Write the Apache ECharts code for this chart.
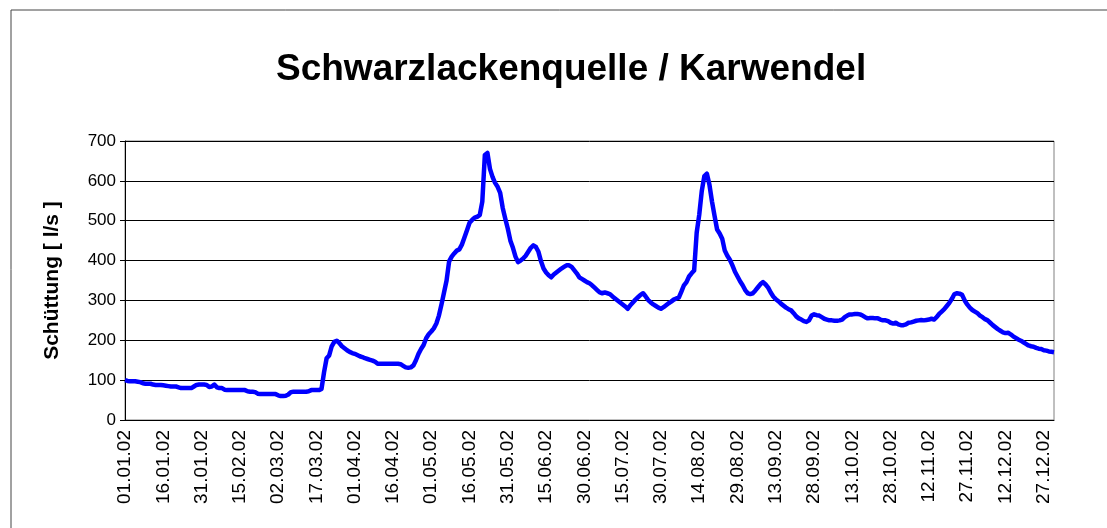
<!DOCTYPE html>
<html>
<head>
<meta charset="utf-8">
<script src="https://cdn.jsdelivr.net/npm/echarts@6/dist/echarts.min.js"></script>
<style>
html,body{margin:0;padding:0;background:#fff;}
#chart{width:1107px;height:528px;}
</style>
</head>
<body>
<div id="chart"></div>
<script>
// Daily discharge values (l/s), 01.01.2002 .. 31.12.2002
const flow = [
100,98,97,97,97,96,95,92,91,91,
91,89,88,88,88,87,86,85,84,84,
84,82,80,80,80,80,80,84,88,89,
89,89,88,83,84,89,82,80,80,76,
75,75,75,75,75,75,75,75,72,71,
71,70,66,65,65,65,65,65,65,65,
62,60,60,61,64,70,71,71,71,71,
71,71,72,75,75,75,75,78,120,155,
162,185,196,199,193,185,180,175,171,168,
166,163,160,158,155,153,151,149,146,141,
141,141,141,141,141,141,141,141,140,136,
132,131,132,137,150,166,178,188,205,215,
222,230,242,262,290,320,350,398,410,418,
425,428,440,458,476,495,502,508,510,514,
548,665,670,630,610,595,585,570,532,505,
480,450,432,410,396,400,405,412,422,432,
438,434,422,398,380,370,363,358,365,370,
375,380,384,388,388,384,376,368,358,354,
350,346,343,338,332,326,320,318,320,318,
316,310,305,300,295,290,285,279,288,295,
302,308,314,318,310,301,295,290,286,282,
279,283,288,293,297,302,305,307,322,338,
346,360,368,375,470,515,575,612,618,590,
548,512,478,468,455,425,412,402,388,372,
360,348,338,326,318,316,318,325,333,341,
346,340,332,320,310,303,298,292,287,282,
278,275,268,260,255,252,248,246,250,262,
265,263,262,258,254,252,250,250,249,249,
250,252,258,262,265,265,266,266,265,262,
258,255,256,256,255,255,252,250,250,248,
244,242,244,240,238,238,240,244,245,247,
249,250,251,250,251,252,254,252,258,266,
272,278,286,294,304,316,318,317,314,300,
290,282,276,272,268,262,258,253,250,244,
238,233,228,224,220,218,219,215,210,206,
202,199,195,191,187,185,184,181,179,178,
175,174,172,171,170
];

const titleText = 'Schwarzlackenquelle / Karwendel';
const yAxisName = 'Schüttung [ l/s ]';
const yMin = 0, yMax = 700, yStep = 100;

// date categories dd.mm.yy
const dates = [];
for (let i = 0; i < flow.length; i++) {
  const d = new Date(Date.UTC(2002, 0, 1 + i));
  const dd = String(d.getUTCDate()).padStart(2, '0');
  const mm = String(d.getUTCMonth() + 1).padStart(2, '0');
  const yy = String(d.getUTCFullYear()).slice(2);
  dates.push(dd + '.' + mm + '.' + yy);
}

const font = 'Arial, "Liberation Sans", sans-serif';
const chart = echarts.init(document.getElementById('chart'), null, {renderer: 'canvas'});
chart.setOption({
  animation: false,
  backgroundColor: '#fff',
  title: {
    text: titleText,
    left: 271,
    top: 46,
    textStyle: {fontFamily: font, fontSize: 37, fontWeight: 'bold', color: '#000'}
  },
  graphic: [{
    type: 'rect',
    shape: {x: 11, y: 10, width: 1200, height: 600},
    style: {fill: 'none', stroke: '#444', lineWidth: 1},
    silent: true, z: -1
  }],
  grid: {
    left: 125, right: 53, top: 141, bottom: 108,
    show: true, borderColor: '#808080', borderWidth: 1, backgroundColor: 'transparent'
  },
  xAxis: {
    type: 'category',
    data: dates,
    boundaryGap: false,
    axisLine: {lineStyle: {color: '#000', width: 1}},
    axisTick: {show: false},
    axisLabel: {
      interval: 14, rotate: 90, margin: 10,
      fontFamily: font, fontSize: 19, color: '#000'
    },
    splitLine: {show: false}
  },
  yAxis: {
    type: 'value',
    min: yMin, max: yMax, interval: yStep,
    name: yAxisName,
    nameLocation: 'middle',
    nameGap: 62,
    nameTextStyle: {fontFamily: font, fontSize: 21, fontWeight: 'bold', color: '#000'},
    axisLine: {show: true, lineStyle: {color: '#000', width: 1}},
    axisTick: {show: true, inside: false, length: 5, lineStyle: {color: '#000'}},
    axisLabel: {fontFamily: font, fontSize: 17, color: '#000', margin: 9},
    splitLine: {show: true, lineStyle: {color: '#000', width: 1}}
  },
  series: [{
    type: 'line',
    data: flow,
    showSymbol: false,
    symbol: 'none',
    smooth: false,
    lineStyle: {color: '#0000FF', width: 4.5, join: 'round'},
    itemStyle: {color: '#0000FF'}
  }]
});
</script>
</body>
</html>
